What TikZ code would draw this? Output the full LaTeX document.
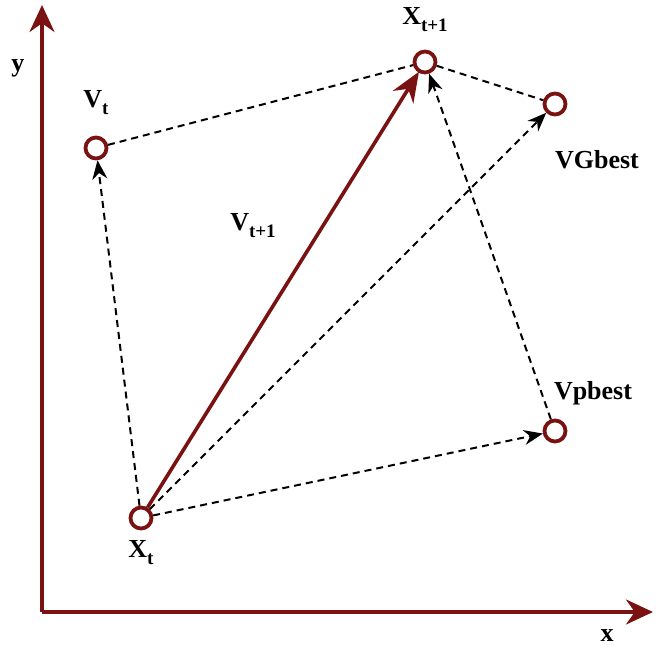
\documentclass[tikz,border=0pt]{standalone}
\usepackage{fontspec}
\setmainfont{Liberation Serif}
\usetikzlibrary{arrows.meta,positioning}
\definecolor{maroon}{RGB}{122,18,18}
\newcommand{\ssub}[1]{\raisebox{-7pt}{\fontsize{19}{22}\selectfont #1}}

\begin{document}
\begin{tikzpicture}[x=1pt,y=-1pt,
    pt/.style={circle,draw=maroon,line width=3.8pt,fill=white,minimum size=21pt,inner sep=0pt},
    lbl/.style={font=\fontsize{26}{30}\selectfont\bfseries,inner sep=0pt},
    ax/.style={-{Stealth[length=27pt,width=25pt]},maroon,line width=3.4pt},
    mv/.style={-{Stealth[length=30pt,width=24pt]},maroon,line width=3.6pt,shorten >=-1pt},
    dl/.style={dashed,dash pattern=on 7pt off 5pt,line width=2pt},
    da/.style={dl,-{Stealth[length=19pt,width=15pt]}}]
    \useasboundingbox (0,0) rectangle (656,651);
    % axes
    \coordinate (o) at (42,612);
    \coordinate (ytip) at (42,5);
    \coordinate (xtip) at (653,612);
    \draw[ax](o)--(ytip);\draw[ax](o)--(xtip);
    \node[lbl] (ylab) at (18,68) {y};
    \node[lbl] (xlab) at (607,636) {x};
    % points
    \node[pt](xt) at (141,518){};
    \node[pt](vt) at (96,148){};
    \node[pt](xn) at (425,62){};
    \node[pt](vg) at (555,104){};
    \node[pt](vp) at (555,431){};
    \node[lbl] at (141,553) (xtl){X\ssub{t}};
    \node[lbl] at (96,103) (vtl){V\ssub{t}};
    \node[lbl] at (425,20) (xnl){X\ssub{t+1}};
    \node[lbl] at (597,160) (vgl){VGbest};
    \node[lbl] at (593,393) (vpl){Vpbest};
    \node[lbl] at (253,226) (vnl){V\ssub{t+1}};
    % vectors
    \draw[dl](vt)--(xn);\draw[dl](xn)--(vg);
    \draw[da](xt)--(vt);\draw[da](xt)--(vg);\draw[da](xt)--(vp);\draw[da](vp)--(xn);
    \draw[mv](xt)--(xn);
  \end{tikzpicture}
\end{document}
